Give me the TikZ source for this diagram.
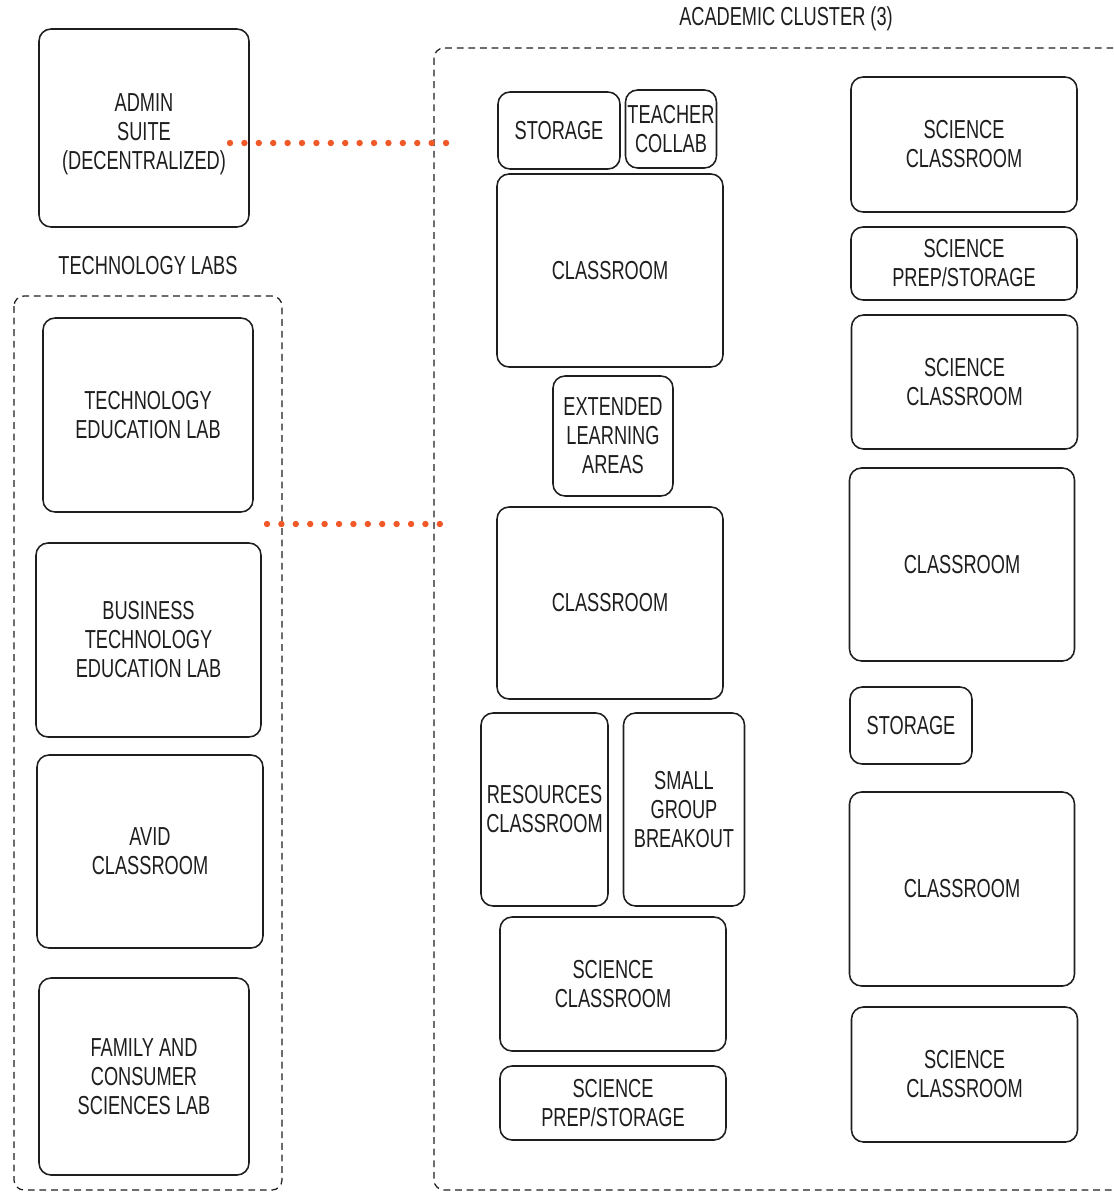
\documentclass[tikz,border=0pt]{standalone}
\usepackage{fontspec}
\setmainfont{Liberation Sans}[FakeStretch=0.70]
\definecolor{linkorange}{RGB}{240,88,40}
\definecolor{inkgrey}{RGB}{30,30,30}
\tikzset{
  roomtext/.style={align=center, inner sep=0pt, text=inkgrey, font=\fontsize{18.5}{20.6}\selectfont},
  room/.style={roomtext, draw=inkgrey, line width=1.1pt, rounded corners=0.3cm},
  sz/.style 2 args={minimum width=#1*0.025cm, minimum height=#2*0.025cm},
  group/.style={draw=inkgrey, line width=0.9pt, dash pattern=on 0.17cm off 0.12cm, rounded corners=0.25cm},
  grouplabel/.style={text=inkgrey, font=\fontsize{18.5}{20.6}\selectfont},
  link/.style={draw=linkorange, line width=0.16cm, line cap=round, dash pattern=on 0pt off 0.36cm}
}
\begin{document}
\begin{tikzpicture}[x=0.025cm, y=-0.025cm]
	\useasboundingbox (0,0) rectangle (1113,1192);
	\clip (0,0) rectangle (1113,1192);

	% group frames
	\draw[group] (14,296) rectangle (282,1190);
	\draw[group] (434,48) rectangle (1140,1190);
	\node[grouplabel] (techlabel) at (148,266) {TECHNOLOGY LABS};
	\node[grouplabel] (clusterlabel) at (786,19) {ACADEMIC CLUSTER (3)};

	% left column
	\node[room, sz={210}{198},
	  label={[roomtext, yshift=-0.16cm]center:{ADMIN\\SUITE\\(DECENTRALIZED)}}] (admin) at (144,128) {};
	\node[room, sz={210}{194}] (techlab) at (148,415) {TECHNOLOGY\\EDUCATION LAB};
	\node[room, sz={225}{194}] (business) at (148.5,640) {BUSINESS\\TECHNOLOGY\\EDUCATION LAB};
	\node[room, sz={226}{193}] (avid) at (150,851.5) {AVID\\CLASSROOM};
	\node[room, sz={210}{197}] (family) at (144,1076.5) {FAMILY AND\\CONSUMER\\SCIENCES LAB};

	% academic cluster, inner column
	\node[room, sz={122}{77}] (storageA) at (559,130.5) {STORAGE};
	\node[room, sz={91}{78}] (collab) at (671,129) {TEACHER\\COLLAB};
	\node[room, sz={226}{193}] (classA) at (610,270.5) {CLASSROOM};
	\node[room, sz={120}{120}] (extended) at (613,436) {EXTENDED\\LEARNING\\AREAS};
	\node[room, sz={226}{192}] (classB) at (610,603) {CLASSROOM};
	\node[room, sz={127}{193}] (resources) at (544.5,809.5) {RESOURCES\\CLASSROOM};
	\node[room, sz={121}{193}] (breakout) at (684,809.5) {SMALL\\GROUP\\BREAKOUT};
	\node[room, sz={226}{134}] (scienceA) at (613,984) {SCIENCE\\CLASSROOM};
	\node[room, sz={226}{74}] (prepA) at (613,1103) {SCIENCE\\PREP/STORAGE};

	% academic cluster, outer column
	\node[room, sz={226}{135}] (scienceB) at (964,144.5) {SCIENCE\\CLASSROOM};
	\node[room, sz={226}{73}] (prepB) at (964,263.5) {SCIENCE\\PREP/STORAGE};
	\node[room, sz={226}{134}] (scienceC) at (964.5,382) {SCIENCE\\CLASSROOM};
	\node[room, sz={225}{193}] (classC) at (962,564.5) {CLASSROOM};
	\node[room, sz={122}{77}] (storageB) at (911,725.5) {STORAGE};
	\node[room, sz={225}{194}] (classD) at (962,889) {CLASSROOM};
	\node[room, sz={226}{135}] (scienceD) at (964.5,1074.5) {SCIENCE\\CLASSROOM};

	% links
	\coordinate (adminlink) at (230,143);
	\coordinate (clusterlinkA) at (447,143);
	\coordinate (techlink) at (267,524);
	\coordinate (clusterlinkB) at (447,524);
	\draw[link] (adminlink) -- (clusterlinkA);
	\draw[link] (techlink) -- (clusterlinkB);
\end{tikzpicture}
\end{document}
